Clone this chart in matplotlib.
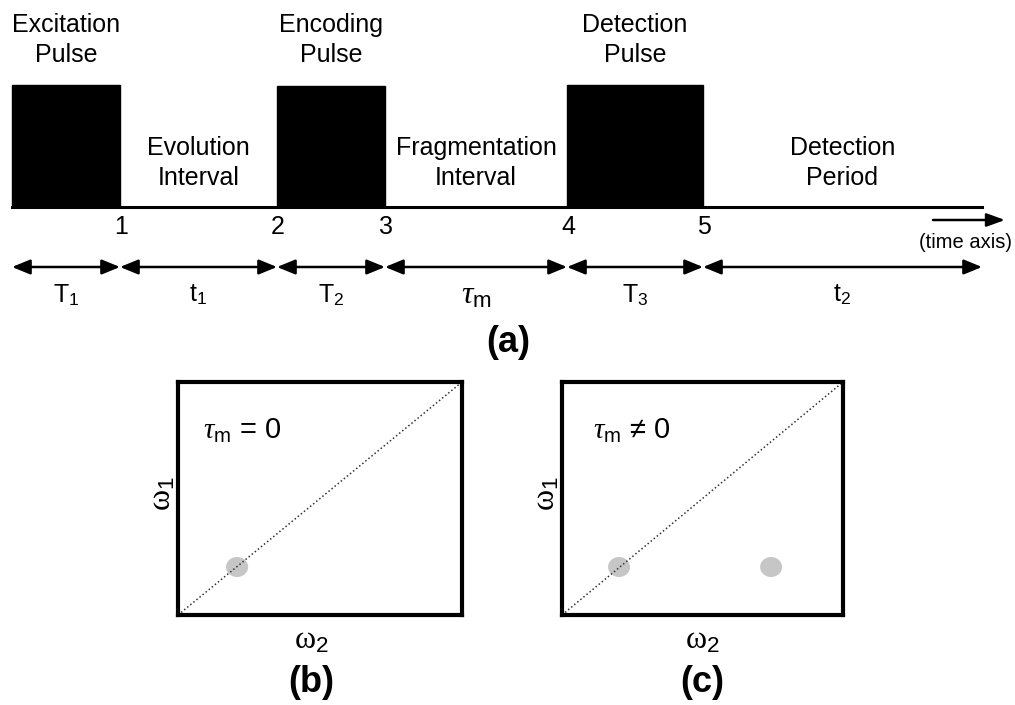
import matplotlib
matplotlib.use("Agg")
import matplotlib.pyplot as plt
from matplotlib.patches import Rectangle, Ellipse

plt.rcParams['font.family'] = ['Liberation Sans', 'DejaVu Sans']
plt.rcParams['mathtext.fontset'] = 'custom'
plt.rcParams['mathtext.rm'] = 'Liberation Sans'
plt.rcParams['mathtext.it'] = 'Liberation Serif:italic'
plt.rcParams['mathtext.sf'] = 'Liberation Serif'
plt.rcParams['mathtext.bf'] = 'Liberation Sans:bold'

# Pulse sequence (x = segment edges along the time axis, in pixels)
edges = [12, 120, 277, 385, 567, 703, 982]
seg_labels = ['T$_1$', 't$_1$', 'T$_2$', r'$\tau_{\rm m}$', 'T$_3$', 't$_2$']
is_pulse = [True, False, True, False, True, False]
pulse_names = ['Excitation\nPulse', 'Encoding\nPulse', 'Detection\nPulse']
interval_names = ['Evolution\nInterval', 'Fragmentation\nInterval', 'Detection\nPeriod']
point_labels = ['1', '2', '3', '4', '5']
pulse_top = [85, 86, 85]
baseline = 207

# 2D spectra: peak positions (omega2, omega1) in fraction of the plot
peak_w2_b = [0.208]
peak_w1_b = [0.206]
peak_w2_c = [0.203, 0.744]
peak_w1_c = [0.206, 0.206]
diag = [0, 1]

fig = plt.figure(figsize=(10.15, 7.05), dpi=100)

# ---- (a) pulse sequence ----
ax = fig.add_axes([0, 0, 1, 1])
ax.set_xlim(0, 1015)
ax.set_ylim(705, 0)
ax.axis('off')

ax.plot([edges[0], edges[-1]], [baseline, baseline], color='black', lw=2.2)

p = 0
q = 0
for i in range(len(seg_labels)):
    x0, x1 = edges[i], edges[i + 1]
    mid = (x0 + x1) / 2
    if is_pulse[i]:
        ax.add_patch(Rectangle((x0, pulse_top[p]), x1 - x0, baseline - pulse_top[p],
                               facecolor='black', edgecolor='black'))
        ax.text(mid, 40, pulse_names[p], ha='center', va='center', fontsize=18, linespacing=1.3)
        p += 1
    else:
        ax.text(mid, 163, interval_names[q], ha='center', va='center', fontsize=18, linespacing=1.3)
        q += 1
    # double-headed arrows and durations
    ax.annotate('', xy=(x1, 267), xytext=(x0, 267),
                arrowprops=dict(arrowstyle='<|-|>,head_length=1.1,head_width=0.45',
                                mutation_scale=10, color='black', lw=1.8,
                                shrinkA=0, shrinkB=0))
    fs = 23 if seg_labels[i].startswith('$') else 18
    ax.text(mid, 295, seg_labels[i], ha='center', va='center', fontsize=fs)

for x, lab in zip(edges[1:6], point_labels):
    ax.text(x + 1, 227, lab, ha='center', va='center', fontsize=18)

# time axis arrow
ax.annotate('', xy=(1005, 220), xytext=(933, 220),
            arrowprops=dict(arrowstyle='-|>,head_length=1.1,head_width=0.4',
                            mutation_scale=10, color='black', lw=1.8,
                            shrinkA=0, shrinkB=0))
ax.text(966, 242, '(time axis)', ha='center', va='center', fontsize=14.5)

ax.text(508, 342, '(a)', ha='center', va='center', fontsize=26, fontweight='bold')


# ---- (b) and (c) 2D spectra ----
def panel(rect, w2, w1, txt, txt_x, lab, lab_x):
    a = fig.add_axes(rect)
    a.set_xlim(0, 1)
    a.set_ylim(0, 1)
    a.set_xticks([])
    a.set_yticks([])
    for s in a.spines.values():
        s.set_linewidth(3)
    for x, y in zip(w2, w1):
        a.add_patch(Ellipse((x, y), 0.078, 0.086, facecolor='#c6c6c6', edgecolor='none', zorder=1))
    a.plot(diag, diag, color='#333333', lw=1.1, linestyle=(0, (1, 1.6)), zorder=2)
    a.text(txt_x, 0.79, txt, transform=a.transAxes, ha='left', va='center', fontsize=21)
    a.text(-0.055, 0.52, r'$\mathsf{\omega}_1$', transform=a.transAxes, rotation=90,
           ha='center', va='center', fontsize=23)
    a.text(lab_x, -0.11, r'$\mathsf{\omega}_2$', transform=a.transAxes,
           ha='center', va='center', fontsize=23)
    a.text(lab_x, -0.29, lab, transform=a.transAxes, ha='center', va='center',
           fontsize=26, fontweight='bold')
    return a


panel([178 / 1015, 1 - 615 / 705, 284 / 1015, 233 / 705], peak_w2_b, peak_w1_b,
      r'$\tau_{\rm m}$ = 0', 0.088, '(b)', 0.47)
panel([562 / 1015, 1 - 615 / 705, 281 / 1015, 233 / 705], peak_w2_c, peak_w1_c,
      '$\\tau_{\\rm m}$ \u2260 0', 0.11, '(c)', 0.5)

fig.savefig('out.png', dpi=100)
